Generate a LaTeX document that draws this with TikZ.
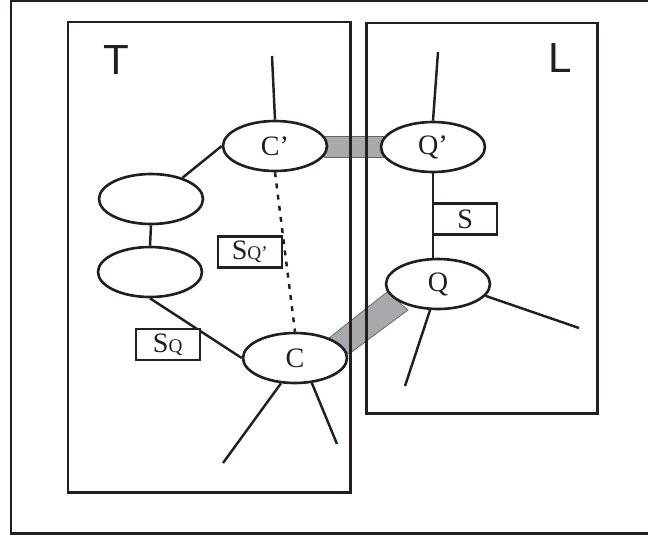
\documentclass[tikz,border=0pt]{standalone}
\usepackage{fontspec}
\setmainfont{Liberation Serif}
\newfontfamily\labelfont{Liberation Sans}
\usepackage{tikz}
\usetikzlibrary{shapes, positioning, backgrounds}
\definecolor{ink}{RGB}{35,31,32}
\definecolor{barfill}{RGB}{167,169,172}

\begin{document}
\begin{tikzpicture}[
        x=0.02cm, y=-0.02cm,
        frame/.style={draw=ink, line width=1.7pt},
        state/.style={ellipse, draw=ink, line width=1.5pt, fill=white, minimum width=2.08cm, minimum height=1cm, inner sep=0pt, text=ink, font=\fontsize{16}{16}\selectfont},
        tag/.style={rectangle, draw=ink, line width=1.4pt, fill=white, minimum width=1.28cm, minimum height=0.62cm, inner sep=0pt, text=ink, font=\fontsize{16}{16}\selectfont},
        region/.style={text=ink, font=\labelfont\fontsize{24}{24}\selectfont},
        link/.style={ink, line width=1.4pt},
        bar/.style={fill=barfill, draw=ink!70, line width=0.4pt}
    ]
        \useasboundingbox (0,0) rectangle (648,538);
        \draw[frame] (11,1) rectangle (670,533);
        \draw[frame] (68,22) rectangle (350,492);
        \draw[frame] (366,23) rectangle (597,413);
        \node[region] (tlab) at (116,60) {T};
        \node[region] (llab) at (560,58) {L};
        % ellipses
        \node[state] (cp) at (275,146) {C’};
        \node[state] (qp) at (433,147) {Q’};
        \node[state] (q) at (438,284) {Q};
        \node[state] (c) at (295,358) {C};
        \node[state] (a1) at (151,199) {};
        \node[state] (a2) at (150,272) {};
        % grey bars behind
        \begin{scope}[on background layer]
            \filldraw[bar] (324,136) rectangle (383,157);
            \filldraw[bar] (329,338) -- (387,292) -- (408,310) -- (349,354) -- cycle;
        \end{scope}
        % free ends
        \coordinate (cptop) at (272,56);
        \coordinate (qptop) at (438,52);
        \coordinate (qleg1) at (405,386);
        \coordinate (qleg2) at (579,328);
        \coordinate (cleg1) at (223,463);
        \coordinate (cleg2) at (337,444);
        \draw[link] (cptop) -- (cp.north);
        \draw[link] (qptop) -- (qp.north);
        \draw[link] (a1.34) -- (cp.west);
        \draw[link] (a1.south) -- (a2.north);
        \draw[link] (a2.south) -- (c.west);
        \draw[link, dash pattern=on 2.8pt off 3.6pt] (cp.south) -- (c.north);
        \draw[link] (qp.south) -- (qp.south |- q.north);
        \draw[link] (q.253) -- (qleg1);
        \draw[link] (q.346) -- (qleg2);
        \draw[link] (c.241) -- (cleg1);
        \draw[link] (c.304) -- (cleg2);
        % labels on the lines
        \node[tag, anchor=west] (s) at (432,219) {S};
        \node[tag, anchor=east] (sqp) at (283,252) {S{\fontsize{11}{11}\selectfont Q’}};
        \node[tag, anchor=north east] (sq) at (201,328) {S{\fontsize{11}{11}\selectfont Q}};
    \end{tikzpicture}
\end{document}
